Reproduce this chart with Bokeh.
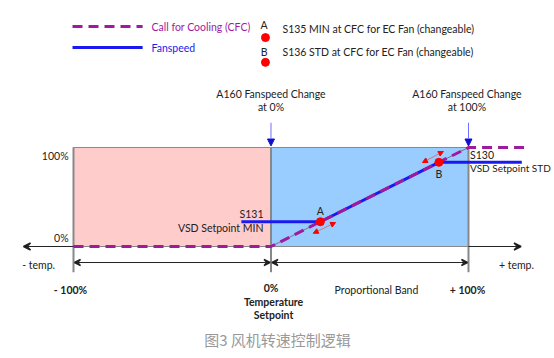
from bokeh.plotting import figure
from bokeh.models import Range1d, Arrow, VeeHead, NormalHead, Label
from bokeh.embed import file_html
from bokeh.resources import INLINE

# ---- data ----
band_left = [-100, 0]
band_right = [0, 100]
band_colors = ["#ffcccc", "#99ccff"]
cfc_x = [-100, 0, 100, 129]
cfc_y = [0, 0, 100, 100]
fan_x = [-15, 25, 85, 127]
fan_y = [25, 25, 85, 85]
pt_names = ["A", "B"]
pt_x = [25, 85]
pt_y = [25, 85]
x_ticks = [-100, 0, 100]
x_tick_labels = ["- 100%", "0%", "+ 100%"]
y_ticks = [0, 100]
y_tick_labels = ["0%", "100%"]

FONT = "Lato"
FS = "10.5px"
DARK = "#222222"
PURPLE = "#a01aa0"
BLUE = "#1a1af0"

p = figure(width=554, height=350, x_range=Range1d(-136.96, 143.55), y_range=Range1d(-105.06, 248.48),
           output_backend="svg", toolbar_location=None, min_border=0,
           x_axis_type=None, y_axis_type=None)
p.grid.visible = False
p.outline_line_color = None
p.background_fill_color = "white"

# bands
p.quad(left=band_left, right=band_right, bottom=0, top=100, fill_color=band_colors,
       line_color="#888888", line_width=1)
# vertical tick lines
for xt in x_ticks:
    p.segment(x0=xt, y0=100, x1=xt, y1=-26, line_color="#888888", line_width=2)

# horizontal axis with arrows
p.add_layout(Arrow(x_start=-100, y_start=0, x_end=-125.3, y_end=0, line_color=DARK, line_width=1,
                   end=VeeHead(size=7, line_color=DARK, line_width=1.5)))
p.add_layout(Arrow(x_start=100, y_start=0, x_end=126.6, y_end=0, line_color=DARK, line_width=1,
                   end=VeeHead(size=7, line_color=DARK, line_width=1.5)))
# range double arrows
for a, b in [(-100, 0), (0, 100)]:
    p.add_layout(Arrow(x_start=a + 0.5, y_start=-16.2, x_end=b - 0.5, y_end=-16.2, line_color=DARK, line_width=1,
                       start=VeeHead(size=6, line_color=DARK, line_width=1.5),
                       end=VeeHead(size=6, line_color=DARK, line_width=1.5)))

# curves
p.line([0, 100], [0, 100], line_color="#777777", line_width=1)
p.line(fan_x, fan_y, line_color=BLUE, line_width=3)
p.line(cfc_x, cfc_y, line_color=PURPLE, line_width=3, line_dash="10 6")
p.scatter(pt_x, pt_y, size=8, color="red")

# red double arrows near A and B
for (x0, y0, x1, y1) in [(21.4, 13.4, 32.7, 24.2), (76.7, 84.8, 87.3, 96.0)]:
    p.add_layout(Arrow(x_start=x0, y_start=y0, x_end=x1, y_end=y1, line_color="#e06060", line_width=0.8,
                       start=NormalHead(size=5, fill_color="red", line_color="red"),
                       end=NormalHead(size=5, fill_color="red", line_color="red")))

# A160 arrows
for xa in [0, 100]:
    p.add_layout(Arrow(x_start=xa, y_start=125, x_end=xa, y_end=101.5, line_color="#7070ff", line_width=1,
                       end=NormalHead(size=7, fill_color="#1010d0", line_color="#1010d0")))

def lab(x, y, t, size=FS, align="left", color=DARK, bold=False):
    p.add_layout(Label(x=x, y=y, text=t, text_font=FONT, text_font_size=size, text_align=align,
                       text_baseline="middle", text_color=color,
                       text_font_style="bold" if bold else "normal"))

# x tick labels
for xt, tl in zip(x_ticks, x_tick_labels):
    lab(xt - (1.5 if xt < 0 else 0 if xt == 0 else 0.5), -42.4 if xt == 0 else -44.4, tl, align="center", bold=True)
lab(1.3, -55.6, "Temperature", align="center", bold=True)
lab(1.3, -68.7, "Setpoint", align="center", bold=True)
lab(53.4, -44.4, "Proportional Band", align="center")
lab(-126, -18.2, "- temp.")
lab(115.4, -18.2, "+ temp.")

# y tick labels
for yt, tl in zip(y_ticks, y_tick_labels):
    lab(-102.5, 8.1 if yt == 0 else 91.9, tl, align="right")

# A160 texts
lab(0, 154.5, "A160 Fanspeed Change", align="center")
lab(0, 140.4, "at 0%", align="center")
lab(99.2, 154.5, "A160 Fanspeed Change", align="center")
lab(99.2, 140.4, "at 100%", align="center")

# setpoint labels
lab(-3.8, 33.3, "S131", align="right")
lab(-3.8, 18.2, "VSD Setpoint MIN", align="right")
lab(100.8, 92.9, "S130")
lab(100.8, 78.8, "VSD Setpoint STD", size="10px")
for n, x, y in zip(pt_names, pt_x, pt_y):
    lab(x, y + 10.4 if n == "A" else y - 11.5, n, align="center")

# legend
p.line([-100.5, -65], [222.2, 222.2], line_color=PURPLE, line_width=3, line_dash="10 6")
p.line([-100.5, -65], [201, 201], line_color=BLUE, line_width=3)
lab(-60.5, 222.2, "Call for Cooling (CFC)", color=PURPLE)
lab(-60.5, 201, "Fanspeed", color=BLUE)
lab(-3.5, 224, "A", align="center")
lab(-3.5, 196, "B", align="center")
p.scatter([-2.8, -2.8], [211, 186], size=8, color="red")
lab(5.8, 219.2, "S135 MIN at CFC for EC Fan (changeable)")
lab(5.8, 196, "S136 STD at CFC for EC Fan (changeable)")

# caption
p.add_layout(Label(x=3.3, y=-93.9, text="图3 风机转速控制逻辑", text_font="Noto Sans CJK SC",
                   text_font_size="15px", text_align="center", text_baseline="middle", text_color="#999999"))

open("out.html", "w").write(file_html(p, INLINE))
